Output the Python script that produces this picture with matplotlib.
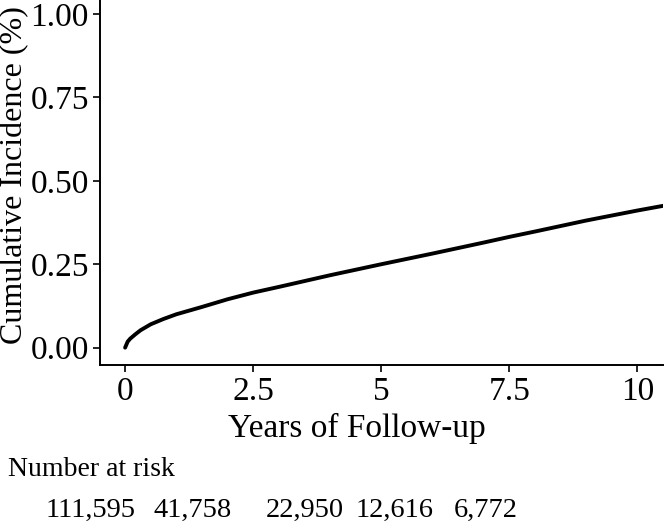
import matplotlib
matplotlib.use("Agg")
import matplotlib.pyplot as plt
import numpy as np

years = [0, 0.05, 0.1, 0.2, 0.3, 0.5, 0.75, 1.0, 1.5, 2.0, 2.5, 3.0, 4.0, 5.0, 6.0, 7.0, 7.5, 8.0, 9.0, 10.0, 10.5]
incidence = [0, 0.018, 0.027, 0.040, 0.052, 0.070, 0.086, 0.100, 0.122, 0.145, 0.165, 0.182, 0.217, 0.250, 0.282, 0.315, 0.332, 0.348, 0.381, 0.411, 0.425]
x_ticks = [0, 2.5, 5, 7.5, 10]
x_ticklabels = ["0", "2.5", "5", "7.5", "10"]
y_ticks = [0, 0.25, 0.5, 0.75, 1.0]
at_risk = ["111,595", "41,758", "22,950", "12,616", "6,772"]

plt.rcParams['font.family'] = ['Liberation Serif', 'DejaVu Serif']

fig = plt.figure(figsize=(6.69, 5.28), dpi=100)
ax = fig.add_axes([100/669, 1 - 365/528, 563/669, 365/528])
ax.plot(years, incidence, color='black', lw=2.8, solid_capstyle='round')
ax.set_xlim(-0.49, 10.5)
ax.set_ylim(-0.052, 1.042)
ax.set_xticks(x_ticks)
ax.set_xticklabels(x_ticklabels)
ax.set_yticks(y_ticks)
ax.set_yticklabels([f"{v:.2f}" for v in y_ticks])
for s in ['top', 'right']:
    ax.spines[s].set_visible(False)
for s in ['left', 'bottom']:
    ax.spines[s].set_linewidth(1.4)
ax.tick_params(axis='both', labelsize=24, length=5, width=1.2, pad=3, colors='black')
ax.set_xlabel("Years of Follow-up", fontsize=24, va='center')
ax.xaxis.set_label_coords((357-100)/563, -(428-365)/365)
ax.set_ylabel("Cumulative Incidence (%)", fontsize=23, va='center')
ax.yaxis.set_label_coords(-(100-15)/563, (365-175)/365)

fig.text(8/669, 1 - 470/528, "Number at risk", fontsize=20, ha='left', va='center')
risk_x = [91, 193, 305, 395, 486]
for xp, t in zip(risk_x, at_risk):
    fig.text(xp/669, 1 - 510/528, t, fontsize=20.5, ha='center', va='center')

fig.savefig("out.png", dpi=100)
